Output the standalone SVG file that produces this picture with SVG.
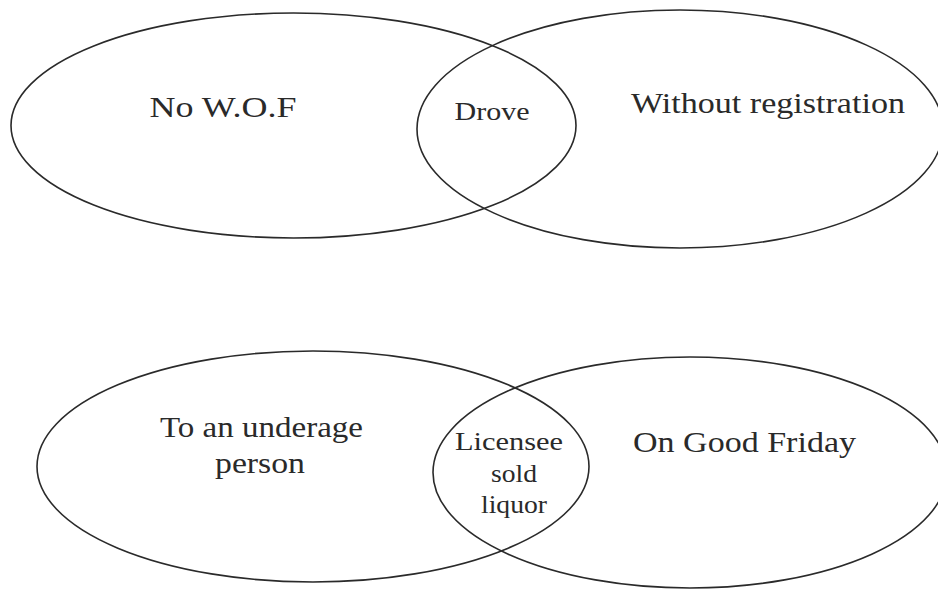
<svg xmlns="http://www.w3.org/2000/svg" width="938" height="589" viewBox="0 0 938 589">
<style>
.set{fill:none;stroke:#2a2a2a;stroke-width:1.6}
.lbl{font-family:"Liberation Serif","Times New Roman",serif;fill:#2a2a2a;text-anchor:middle}
.big{font-size:30px}
.small{font-size:25px}
</style>
<rect width="938" height="589" fill="#fff"/>
<g id="top-diagram">
<g id="no-wof"><ellipse class="set" cx="293.5" cy="125.5" rx="282.5" ry="112.5"/><text class="lbl big" x="223" y="117" textLength="147" lengthAdjust="spacingAndGlyphs">No W.O.F</text></g>
<g id="without-registration"><ellipse class="set" cx="680" cy="129" rx="263" ry="119"/><text class="lbl big" x="768" y="113" textLength="274" lengthAdjust="spacingAndGlyphs">Without registration</text></g>
<g id="drove"><text class="lbl small" x="492" y="120" textLength="75" lengthAdjust="spacingAndGlyphs">Drove</text></g>
</g>
<g id="bottom-diagram">
<g id="underage"><ellipse class="set" cx="313" cy="466.5" rx="276" ry="115.5"/><text class="lbl big" x="261.5" y="437" textLength="203" lengthAdjust="spacingAndGlyphs">To an underage</text><text class="lbl big" x="260" y="473" textLength="90" lengthAdjust="spacingAndGlyphs">person</text></g>
<g id="good-friday"><ellipse class="set" cx="690" cy="472.5" rx="257" ry="115.5"/><text class="lbl big" x="744.5" y="452" textLength="223" lengthAdjust="spacingAndGlyphs">On Good Friday</text></g>
<g id="licensee"><text class="lbl small" x="509" y="450" textLength="108" lengthAdjust="spacingAndGlyphs">Licensee</text><text class="lbl small" x="514" y="482" textLength="46" lengthAdjust="spacingAndGlyphs">sold</text><text class="lbl small" x="514" y="513" textLength="66" lengthAdjust="spacingAndGlyphs">liquor</text></g>
</g>
<g id="connectors"/>
</svg>
